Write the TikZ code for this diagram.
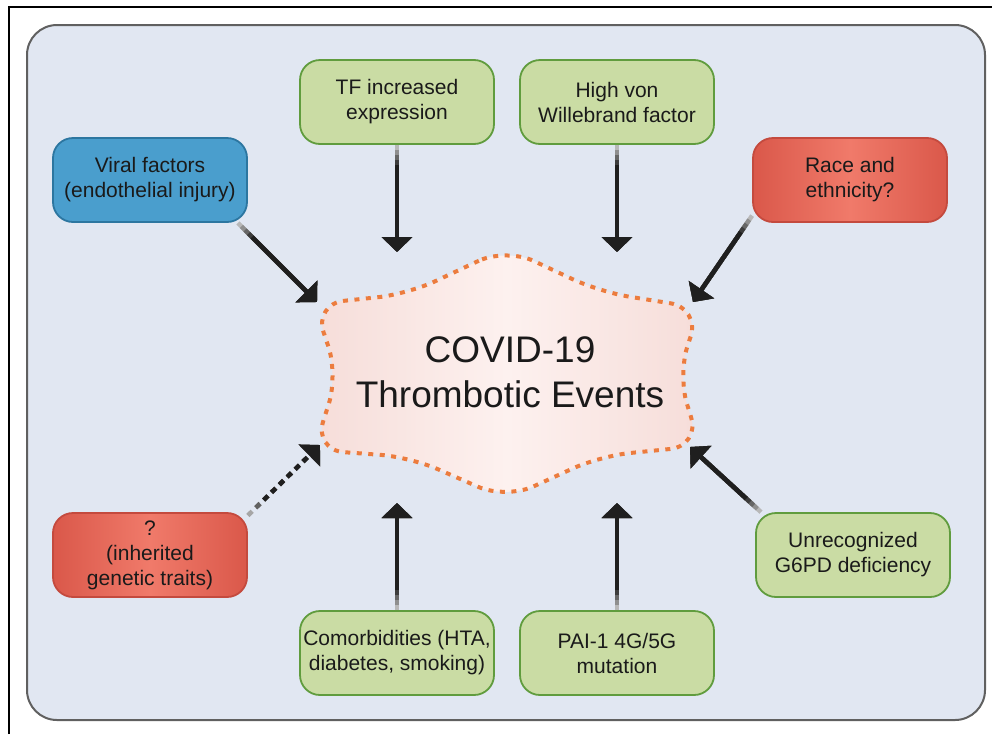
\documentclass[tikz,border=0pt]{standalone}
\usepackage{fontspec}
\setmainfont{Liberation Sans}
\usetikzlibrary{arrows.meta}
\definecolor{panelfill}{RGB}{225,231,242}
\definecolor{panelline}{RGB}{96,96,96}
\definecolor{leaf}{RGB}{202,220,164}
\definecolor{leafline}{RGB}{96,156,62}
\definecolor{virus}{RGB}{74,158,205}
\definecolor{virusline}{RGB}{44,118,160}
\definecolor{redside}{RGB}{218,88,74}
\definecolor{redmid}{RGB}{240,122,106}
\definecolor{redline}{RGB}{196,74,62}
\definecolor{blobside}{RGB}{246,221,217}
\definecolor{blobmid}{RGB}{253,241,239}
\definecolor{dots}{RGB}{236,124,62}
\definecolor{ink}{RGB}{26,26,26}
\tikzset{
    %Define standard arrow tip
    >={Triangle[width=30pt,length=15pt]},
    %Define style for boxes
    cause/.style={
           rectangle,
           rounded corners=20pt,
           line width=1.8pt,
           minimum width=194pt,
           minimum height=84pt,
           inner sep=2pt,
           align=center,
           text=ink,
           font=\fontsize{21}{25}\selectfont},
    greenbox/.style={cause, fill=leaf, draw=leafline},
    bluebox/.style={cause, fill=virus, draw=virusline},
    redbox/.style={cause, left color=redside, right color=redside,
           middle color=redmid, draw=redline},
    % Define style for the central event
    hub/.style={
           draw=dots,
           line width=4pt,
           dash pattern=on 5pt off 6.5pt,
           rounded corners=30pt,
           left color=blobside, right color=blobside, middle color=blobmid},
    % Define arrow style
    pil/.style={
           ->,
           line width=4.5pt}
}
% arrow that fades in from its box
\newcommand\feed[2]{%
  \foreach \s/\c in {0/28,5/44,10/60,15/76,20/88}{%
    \draw[pil, black!\c, shorten <={\s pt}] (#1) -- (#2);}}

\begin{document}
\begin{tikzpicture}[x=1pt, y=-1pt]
\useasboundingbox (0,0) rectangle (992,734);
\draw[line width=2.2pt] (9,734) -- (9,7) -- (992,7);
\draw[fill=panelfill, draw=panelline, line width=2pt, rounded corners=30pt]
    (27,25) rectangle (985,720);

% central event
\draw[hub] (506,248) -- (408,294) -- (314,304) -- (338,375) -- (314,450)
    -- (410,457) -- (506,499) -- (600,456) -- (700,446) -- (678,375)
    -- (700,308) -- (600,292) -- cycle;
\node[align=center, text=ink, font=\fontsize{37}{45}\selectfont] (event)
    at (510,372) {COVID-19\\Thrombotic Events};

% factors
\node[greenbox] (tf) at (397,102) {TF increased\\expression};
\node[greenbox] (vwf) at (617,102) {High von\\Willebrand factor};
\node[bluebox] (viral) at (150,180) {Viral factors\\(endothelial injury)};
\node[redbox] (race) at (850,180) {Race and\\ethnicity?};
\node[redbox] (gene) at (150,555) {?\\(inherited\\genetic traits)};
\node[greenbox] (g6pd) at (853,555) {Unrecognized\\G6PD deficiency};
\node[greenbox] (comorb) at (397,653) {Comorbidities (HTA,\\diabetes, smoking)};
\node[greenbox] (pai) at (617,653) {PAI-1 4G/5G\\mutation};

% arrow ends
\coordinate (tfend) at (397,252);
\coordinate (vwfend) at (617,252);
\coordinate (viralend) at (317,302);
\coordinate (raceend) at (693,302);
\coordinate (geneend) at (320,445);
\coordinate (g6pdend) at (690,447);
\coordinate (comorbend) at (397,503);
\coordinate (paiend) at (617,503);

\feed{tf.south}{tfend}
\feed{vwf.south}{vwfend}
\feed{viral.-26}{viralend}
\feed{race.200}{raceend}
\feed{g6pd.155}{g6pdend}
\feed{comorb.north}{comorbend}
\feed{pai.north}{paiend}
\foreach \s/\c in {0/35,11/62,22/88}
    \draw[pil, black!\c, dash pattern=on 6pt off 5pt, shorten <={\s pt}]
        (gene.22) -- (geneend);
\end{tikzpicture}
\end{document}
